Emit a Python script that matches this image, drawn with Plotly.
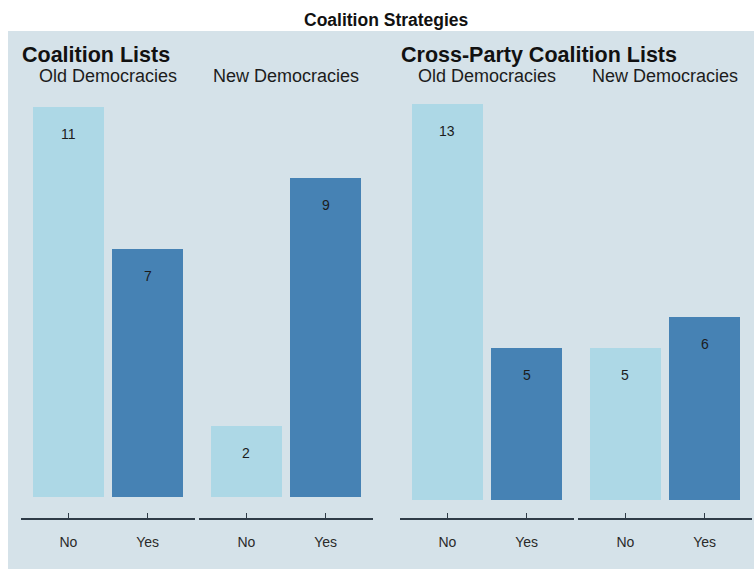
import plotly.graph_objects as go

# ---- data ----
categories = ["No", "Yes"]
panel_titles = ["Coalition Lists", "Cross-Party Coalition Lists"]
group_titles = ["Old Democracies", "New Democracies"]
coalition_old = [11, 7]
coalition_new = [2, 9]
cross_old = [13, 5]
cross_new = [5, 6]
main_title = "Coalition Strategies"

# ---- styling ----
W, H = 754, 569
FONT = "Liberation Sans, Arial, sans-serif"
bar_colors = {"No": "#add8e6", "Yes": "#4682b4"}
bg_color = "#d5e2e9"
axis_color = "#2e3b47"
text_color = "#1c1c1c"

def px_x(p):
    return p / W

def px_y(p):
    return 1 - p / H

x_domains = [(21, 195), (199, 373), (400, 574), (578, 752)]
y_dom = [px_y(518), px_y(100)]

series = [coalition_old, coalition_new, cross_old, cross_new]
panel_of = [0, 0, 1, 1]
panel_max = [max(coalition_old + coalition_new), max(cross_old + cross_new)]
y_ranges = [[-0.59, panel_max[0] * 1.019], [-0.59, panel_max[1] * 1.01]]

fig = go.Figure()
annotations = []

for i, vals in enumerate(series):
    n = i + 1
    xa = "x" if n == 1 else f"x{n}"
    ya = "y" if n == 1 else f"y{n}"
    fig.add_trace(go.Bar(
        x=categories, y=vals, width=0.9,
        marker=dict(color=[bar_colors[c] for c in categories], line=dict(width=0)),
        xaxis=xa, yaxis=ya, showlegend=False, hoverinfo="x+y",
    ))
    for c, v in zip(categories, vals):
        annotations.append(dict(
            x=c, y=v, xref=xa, yref=ya, text=str(v), showarrow=False,
            yshift=-27, yanchor="middle",
            font=dict(family=FONT, size=14, color=text_color),
        ))
    d0, d1 = x_domains[i]
    fig.layout[f"xaxis{'' if n == 1 else n}"] = dict(
        domain=[px_x(d0), px_x(d1)], anchor=ya, range=[-0.6, 1.6],
        showline=True, linecolor=axis_color, linewidth=2,
        ticks="inside", ticklen=5, tickwidth=1, tickcolor=axis_color,
        showgrid=False, zeroline=False, fixedrange=True,
        tickfont=dict(family=FONT, size=14, color="#2a2a2a"),
        ticklabelstandoff=10,
    )
    fig.layout[f"yaxis{'' if n == 1 else n}"] = dict(
        domain=y_dom, anchor=xa, range=y_ranges[panel_of[i]],
        visible=False, showgrid=False, zeroline=False, fixedrange=True,
    )
    # group title over each subplot
    annotations.append(dict(
        x=px_x((d0 + d1) / 2), y=px_y(76), xref="paper", yref="paper",
        text=group_titles[i % 2], showarrow=False, xanchor="center", yanchor="middle",
        font=dict(family=FONT, size=18, color=text_color),
    ))

# panel titles
for k, t in enumerate(panel_titles):
    annotations.append(dict(
        x=px_x(x_domains[2 * k][0] - 1), y=px_y(55), xref="paper", yref="paper",
        text=f"<b>{t}</b>", showarrow=False, xanchor="left", yanchor="middle",
        font=dict(family=FONT, size=21.5, color="#111111"),
    ))

# main title
annotations.append(dict(
    x=px_x(386), y=px_y(20), xref="paper", yref="paper",
    text=f"<b>{main_title}</b>", showarrow=False, xanchor="center", yanchor="middle",
    font=dict(family=FONT, size=17.5, color="#111111"),
))

fig.update_layout(
    width=W, height=H, margin=dict(l=0, r=0, t=0, b=0),
    paper_bgcolor="white", plot_bgcolor="rgba(0,0,0,0)",
    bargap=0, annotations=annotations,
    shapes=[dict(type="rect", xref="paper", yref="paper",
                 x0=px_x(8), x1=1, y0=0, y1=px_y(31),
                 fillcolor=bg_color, line=dict(width=0), layer="below")],
)

fig.write_html("out.html")
